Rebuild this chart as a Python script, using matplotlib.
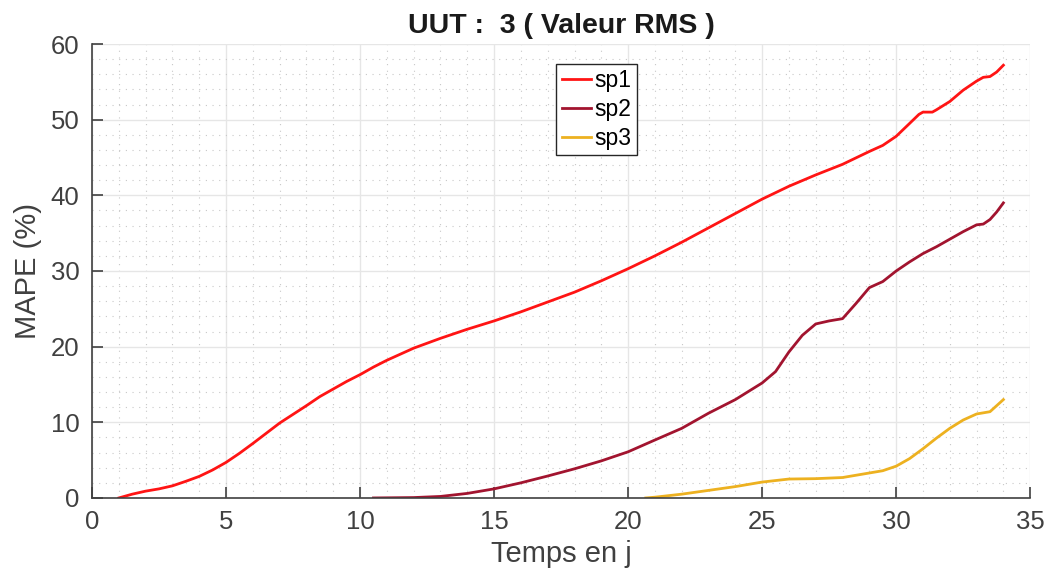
import numpy as np
import matplotlib
matplotlib.use('Agg')
import matplotlib.pyplot as plt
from matplotlib.ticker import MultipleLocator

plt.rcParams['font.family'] = ['Liberation Sans', 'DejaVu Sans']

# values
t1 = [1.0, 1.5, 2, 2.5, 3, 3.5, 4, 4.5, 5, 5.5, 6, 6.5, 7, 7.5, 8, 8.5, 9, 9.5, 10, 10.5,
      11, 12, 13, 14, 15, 16, 17, 18, 19, 20, 21, 22, 23, 24, 25, 26, 27, 28,
      29, 29.5, 30, 30.5, 30.85, 31, 31.35, 31.5, 32, 32.5, 33, 33.25, 33.5, 33.75, 34]
sp1 = [0, 0.5, 0.9, 1.2, 1.6, 2.2, 2.85, 3.7, 4.7, 5.9, 7.2, 8.55, 9.9, 11.05, 12.2, 13.4, 14.4, 15.4, 16.3, 17.3,
       18.2, 19.8, 21.1, 22.3, 23.4, 24.6, 25.9, 27.2, 28.7, 30.3, 32.0, 33.8, 35.7, 37.6, 39.5, 41.2, 42.7, 44.1,
       45.8, 46.6, 47.8, 49.5, 50.7, 51.0, 51.0, 51.3, 52.4, 53.9, 55.1, 55.6, 55.7, 56.3, 57.2]

t2 = [10.5, 12, 13, 14, 15, 16, 17, 18, 19, 20, 21, 22, 23, 24, 25, 25.5, 26, 26.5,
      27, 27.5, 28, 28.5, 29, 29.5, 30, 30.5, 31, 31.5, 32, 32.5, 33, 33.25, 33.5, 33.75, 34]
sp2 = [0, 0.05, 0.2, 0.6, 1.2, 2.0, 2.9, 3.85, 4.9, 6.1, 7.66, 9.2, 11.2, 13.0, 15.2, 16.7, 19.3, 21.5,
       23.0, 23.4, 23.7, 25.7, 27.8, 28.6, 30.0, 31.2, 32.3, 33.2, 34.2, 35.2, 36.1, 36.2, 36.8, 37.8, 39.0]

t3 = [20.66, 21, 22, 23, 24, 25, 26, 27, 28, 29, 29.5, 30, 30.5, 31, 31.5, 32, 32.5,
      33, 33.5, 34]
sp3 = [0, 0.1, 0.5, 1.0, 1.5, 2.1, 2.5, 2.55, 2.7, 3.3, 3.6, 4.2, 5.2, 6.5, 7.9, 9.2, 10.3,
       11.1, 11.4, 13.0]

fig = plt.figure(figsize=(10.48, 5.77), dpi=100)
ax = fig.add_axes([0.0878, 0.137, 0.8952, 0.7867])

ax.plot(t1, sp1, color='#FF1414', lw=2, label='sp1')
ax.plot(t2, sp2, color='#A2142F', lw=2, label='sp2')
ax.plot(t3, sp3, color='#EDB120', lw=2, label='sp3')

ax.set_xlim(0, 35); ax.set_ylim(0, 60)
ax.xaxis.set_major_locator(MultipleLocator(5))
ax.yaxis.set_major_locator(MultipleLocator(10))
ax.xaxis.set_minor_locator(MultipleLocator(1))
ax.yaxis.set_minor_locator(MultipleLocator(2))
ax.grid(which='major', color='#E6E6E6', lw=1)
ax.grid(which='minor', color='#C8C8C8', lw=0.8, ls=(0, (1, 5)))
ax.set_axisbelow(True)

for s in ['top', 'right']:
    ax.spines[s].set_visible(False)
for s in ['left', 'bottom']:
    ax.spines[s].set_color('#404040')
    ax.spines[s].set_linewidth(1.2)
ax.tick_params(which='major', direction='in', length=8, width=1.2, color='#404040',
               labelsize=18.5, labelcolor='#404040', pad=9)
ax.tick_params(which='minor', length=0)

ax.set_xlabel('Temps en j', fontsize=21, color='#404040', labelpad=4)
ax.set_ylabel('MAPE (%)', fontsize=21, color='#404040', labelpad=6)
ax.set_title('UUT :  3 ( Valeur RMS )', fontsize=20.5, fontweight='bold', color='#1a1a1a', pad=8)

leg = ax.legend(loc='upper left', bbox_to_anchor=(0.495, 0.957), borderaxespad=0,
                fontsize=16.5, fancybox=False, framealpha=1, edgecolor='#262626',
                handlelength=1.25, handletextpad=0.15, labelspacing=0.25, borderpad=0.25)
leg.get_frame().set_linewidth(1.0)

fig.savefig('out.png', dpi=100)
